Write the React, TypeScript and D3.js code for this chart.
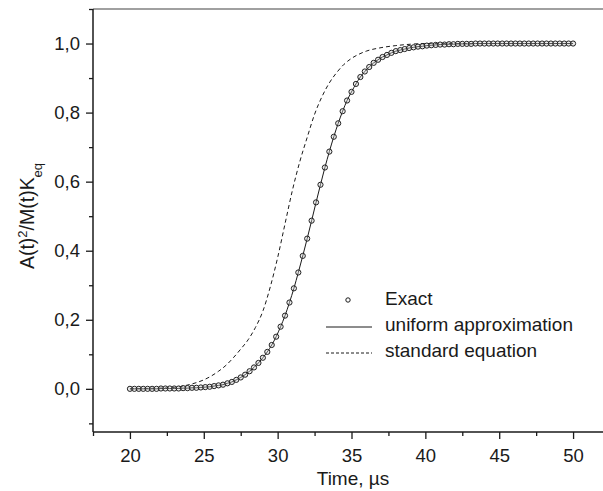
import { useRef, useEffect } from "react";
import * as d3 from "d3";

// exact solution, sampled every 0.3 µs
const exactTime = [
  20.0, 20.3, 20.6, 20.9, 21.2, 21.5, 21.8, 22.1, 22.4, 22.7, 23.0, 23.3, 23.6,
  23.9, 24.2, 24.5, 24.8, 25.1, 25.4, 25.7, 26.0, 26.3, 26.6, 26.9, 27.2, 27.5,
  27.8, 28.1, 28.4, 28.7, 29.0, 29.3, 29.6, 29.9, 30.2, 30.5, 30.8, 31.1, 31.4,
  31.7, 32.0, 32.3, 32.6, 32.9, 33.2, 33.5, 33.8, 34.1, 34.4, 34.7, 35.0, 35.3,
  35.6, 35.9, 36.2, 36.5, 36.8, 37.1, 37.4, 37.7, 38.0, 38.3, 38.6, 38.9, 39.2,
  39.5, 39.8, 40.1, 40.4, 40.7, 41.0, 41.3, 41.6, 41.9, 42.2, 42.5, 42.8, 43.1,
  43.4, 43.7, 44.0, 44.3, 44.6, 44.9, 45.2, 45.5, 45.8, 46.1, 46.4, 46.7, 47.0,
  47.3, 47.6, 47.9, 48.2, 48.5, 48.8, 49.1, 49.4, 49.7, 50.0,
];
const exactValue = [
  0, 0, 0, 0, 0, 0, 0, 0.001, 0.001, 0.001, 0.001, 0.001, 0.002, 0.002, 0.003,
  0.003, 0.004, 0.005, 0.006, 0.008, 0.01, 0.012, 0.016, 0.02, 0.026, 0.033,
  0.041, 0.051, 0.062, 0.075, 0.09, 0.107, 0.127, 0.151, 0.18, 0.212, 0.25,
  0.291, 0.337, 0.385, 0.435, 0.487, 0.54, 0.591, 0.641, 0.687, 0.73, 0.769,
  0.804, 0.835, 0.86, 0.883, 0.903, 0.919, 0.932, 0.944, 0.953, 0.961, 0.967,
  0.973, 0.978, 0.981, 0.984, 0.987, 0.989, 0.991, 0.992, 0.994, 0.995, 0.996,
  0.997, 0.997, 0.998, 0.998, 0.999, 0.999, 0.999, 0.999, 1, 1, 1, 1, 1, 1, 1,
  1, 1, 1, 1, 1, 1, 1, 1, 1, 1, 1, 1, 1, 1, 1, 1,
];
// uniform approximation runs through the exact points
const uniformValue = exactValue;

// standard equation (dashed)
const stdTime = [
  20, 21, 22, 23, 24, 24.5, 25, 25.5, 26, 26.5, 27, 27.5, 28, 28.5, 29, 29.5, 30,
  30.5, 31, 31.5, 32, 32.5, 33, 33.5, 34, 34.5, 35, 35.5, 36, 37, 38, 39, 40, 42,
  45, 50,
];
const stdValue = [
  0, 0.001, 0.002, 0.004, 0.012, 0.018, 0.026, 0.037, 0.051, 0.068, 0.09, 0.115,
  0.142, 0.178, 0.225, 0.295, 0.38, 0.478, 0.575, 0.658, 0.728, 0.795, 0.846,
  0.886, 0.916, 0.94, 0.957, 0.969, 0.978, 0.988, 0.994, 0.998, 1, 1, 1, 1,
];

const xMajor = [20, 25, 30, 35, 40, 45, 50];
const xMinor = [17.5, 22.5, 27.5, 32.5, 37.5, 42.5, 47.5, 52.5];
const yMajor = [0, 0.2, 0.4, 0.6, 0.8, 1.0];
const yMinor = [-0.1, 0.1, 0.3, 0.5, 0.7, 0.9, 1.1];
const legendLabels = ["Exact", "uniform approximation", "standard equation"];

export default function App() {
  const svgRef = useRef<SVGSVGElement>(null);

  useEffect(() => {
    const width = 603;
    const font = "Liberation Sans, Arial, sans-serif";
    const ink = "#1a1a1a";

    const svg = d3.select(svgRef.current);
    svg.selectAll("*").remove();

    const x = d3.scaleLinear().domain([17.5, 52.5]).range([93, 610]);
    const y = d3.scaleLinear().domain([-0.125, 1.1]).range([432, 9]);

    // top frame line (grey)
    svg
      .append("line")
      .attr("x1", x(17.5))
      .attr("x2", width)
      .attr("y1", y(1.1))
      .attr("y2", y(1.1))
      .attr("stroke", "#808080")
      .attr("stroke-width", 1.5);

    // x axis
    const gx = svg.append("g").attr("transform", `translate(0,${y(-0.125)})`);
    gx.call(
      d3
        .axisBottom(x)
        .tickValues(xMajor)
        .tickSize(7)
        .tickPadding(10)
        .tickFormat((d) => d3.format("d")(d as number)),
    );
    const gxMinor = svg
      .append("g")
      .attr("transform", `translate(0,${y(-0.125)})`)
      .call(d3.axisBottom(x).tickValues(xMinor).tickSize(4).tickFormat(() => ""));
    gxMinor.select(".domain").remove();

    // y axis
    const gy = svg.append("g").attr("transform", `translate(${x(17.5)},0)`);
    gy.call(
      d3
        .axisLeft(y)
        .tickValues(yMajor)
        .tickSize(7)
        .tickPadding(6)
        .tickFormat((d) => d3.format(".1f")(d as number).replace(".", ",")),
    );
    const gyMinor = svg
      .append("g")
      .attr("transform", `translate(${x(17.5)},0)`)
      .call(d3.axisLeft(y).tickValues(yMinor).tickSize(4).tickFormat(() => ""));
    gyMinor.select(".domain").remove();

    [gx, gy, gxMinor, gyMinor].forEach((g) => {
      g.select(".domain").attr("stroke", ink).attr("stroke-width", 1.5);
      g.selectAll(".tick line").attr("stroke", ink).attr("stroke-width", 1.3);
      g.selectAll(".tick text")
        .attr("fill", ink)
        .style("font-family", font)
        .style("font-size", "18.5px");
    });
    gx.select(".domain").attr("d", `M${x(17.5)},0H${width}`);
    gy.select(".domain").attr("d", `M0,${y(-0.125)}V${y(1.1)}`);

    // axis titles
    svg
      .append("text")
      .attr("x", 353)
      .attr("y", 485)
      .attr("text-anchor", "middle")
      .attr("fill", ink)
      .style("font-family", font)
      .style("font-size", "19px")
      .text("Time, µs");

    const yt = svg
      .append("text")
      .attr("transform", "translate(34,216) rotate(-90)")
      .attr("text-anchor", "middle")
      .attr("fill", ink)
      .style("font-family", font)
      .style("font-size", "19.5px");
    yt.append("tspan").text("A(t)");
    yt.append("tspan")
      .attr("baseline-shift", "super")
      .style("font-size", "13px")
      .text("2");
    yt.append("tspan").text("/M(t)K");
    yt.append("tspan")
      .attr("baseline-shift", "sub")
      .style("font-size", "13px")
      .text("eq");

    const plot = svg.append("g");

    const exact = exactTime.map((t, i) => ({ t, v: exactValue[i] }));
    const uniform = exactTime.map((t, i) => ({ t, v: uniformValue[i] }));
    const std = stdTime.map((t, i) => ({ t, v: stdValue[i] }));

    const line = d3
      .line<{ t: number; v: number }>()
      .x((d) => x(d.t))
      .y((d) => y(d.v))
      .curve(d3.curveMonotoneX);

    plot
      .append("path")
      .datum(std)
      .attr("d", line)
      .attr("fill", "none")
      .attr("stroke", ink)
      .attr("stroke-width", 1)
      .attr("stroke-dasharray", "4,3");

    plot
      .append("path")
      .datum(uniform)
      .attr("d", line)
      .attr("fill", "none")
      .attr("stroke", ink)
      .attr("stroke-width", 1);

    plot
      .selectAll("circle")
      .data(exact)
      .join("circle")
      .attr("cx", (d) => x(d.t))
      .attr("cy", (d) => y(d.v))
      .attr("r", 2.6)
      .attr("fill", "rgba(200,200,200,0.35)")
      .attr("stroke", "#222")
      .attr("stroke-width", 1);

    // legend
    const legend = svg.append("g").attr("transform", "translate(326,298)");
    legendLabels.forEach((label, i) => {
      const row = legend.append("g").attr("transform", `translate(0,${i * 26})`);
      if (i === 0) {
        row
          .append("circle")
          .attr("cx", 22)
          .attr("cy", 2)
          .attr("r", 2.2)
          .attr("fill", "none")
          .attr("stroke", ink)
          .attr("stroke-width", 1);
      } else {
        row
          .append("line")
          .attr("x1", 0)
          .attr("x2", 46)
          .attr("y1", 3)
          .attr("y2", 3)
          .attr("stroke", ink)
          .attr("stroke-width", 1)
          .attr("stroke-dasharray", i === 2 ? "3,2" : null);
      }
      row
        .append("text")
        .attr("x", 59)
        .attr("y", 7)
        .attr("fill", ink)
        .style("font-family", font)
        .style("font-size", "19px")
        .text(label);
    });
  }, []);

  return (
    <div style={{ position: "absolute", left: 0, top: 0 }}>
      <svg
        ref={svgRef}
        width={603}
        height={491}
        style={{ display: "block", background: "#fff" }}
      />
    </div>
  );
}
